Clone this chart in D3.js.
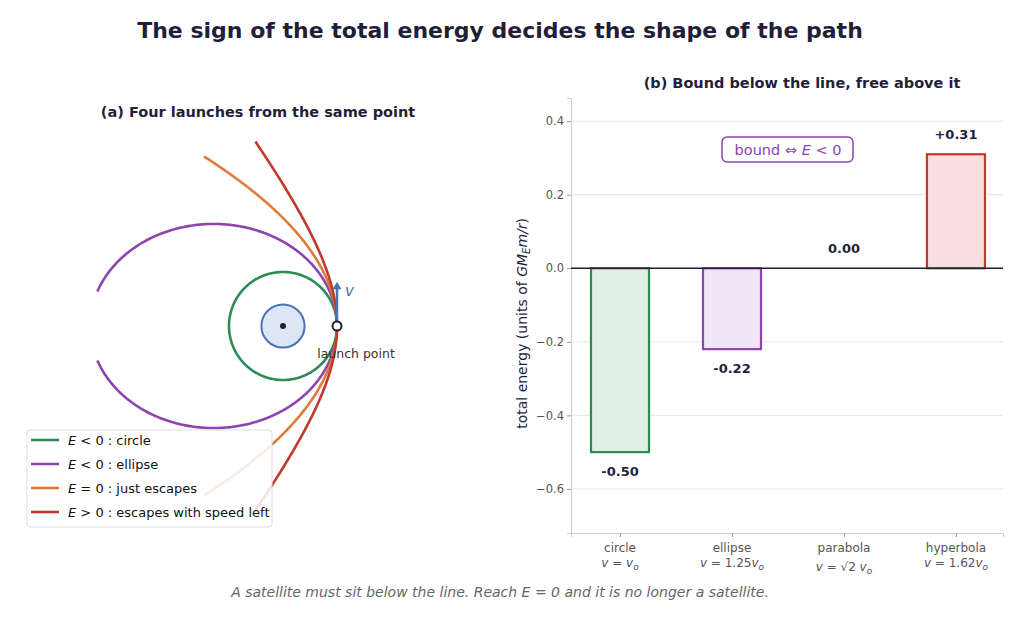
<!DOCTYPE html>
<html><head><meta charset="utf-8">
<script src="https://cdn.jsdelivr.net/npm/d3@7"></script>
<style>body{margin:0;background:#fff;font-family:"DejaVu Sans",sans-serif}</style>
</head><body><div id="chart"></div>
<script>
// launch speeds in units of circular speed v_o
const speeds = [1, 1.25, Math.SQRT2, 1.62];
const orbitNames = ["E < 0 : circle", "E < 0 : ellipse", "E = 0 : just escapes", "E > 0 : escapes with speed left"];
const colors = ["#2e8b57", "#8e44ad", "#e07b39", "#c0392b"];
const fills = ["#dff0e3", "#f1e5f8", "#fbe9e0", "#fbdfe0"];
const categories = ["circle", "ellipse", "parabola", "hyperbola"];
const energies = [-0.50, -0.22, 0.00, 0.31];
const energyLabels = ["-0.50", "-0.22", "0.00", "+0.31"];
const yTicks = [0.4, 0.2, 0.0, -0.2, -0.4, -0.6];
const RMAX = 3.5;
const dark = "#1f1f3a";

const svg = d3.select("#chart").append("svg").attr("width", 1024).attr("height", 620);

svg.append("text").attr("x", 500).attr("y", 38).attr("text-anchor", "middle")
    .style("font-size", "22px").style("font-weight", "bold").attr("fill", dark)
    .text("The sign of the total energy decides the shape of the path");

svg.append("text").attr("x", 500).attr("y", 597).attr("text-anchor", "middle")
    .style("font-size", "14px").style("font-style", "italic").attr("fill", "#666")
    .html("A satellite must sit below the line. Reach <tspan>E</tspan> = 0 and it is no longer a satellite.");

// ---------- left panel ----------
svg.append("text").attr("x", 258).attr("y", 117).attr("text-anchor", "middle")
    .style("font-size", "14.5px").style("font-weight", "bold").attr("fill", dark)
    .text("(a) Four launches from the same point");

const sx = d3.scaleLinear().domain([0, 1]).range([283, 337]);
const sy = d3.scaleLinear().domain([0, 1]).range([326, 272]);
const left = svg.append("g");

speeds.forEach((k, i) => {
    const e = k * k - 1, p = k * k;
    const pts = [];
    for (let t = -180; t <= 180; t += 0.5) {
        const th = t * Math.PI / 180;
        const den = 1 + e * Math.cos(th);
        if (den <= 0) { pts.push(null); continue; }
        const r = p / den;
        pts.push(r > RMAX ? null : [r * Math.cos(th), r * Math.sin(th)]);
    }
    const line = d3.line().defined(d => d).x(d => sx(d[0])).y(d => sy(d[1]));
    left.append("path").attr("d", line(pts)).attr("fill", "none")
        .attr("stroke", colors[i]).attr("stroke-width", 2.6);
});

left.append("circle").attr("cx", sx(0)).attr("cy", sy(0)).attr("r", sx(0.4) - sx(0))
    .attr("fill", "#dce6f5").attr("stroke", "#4a72b5").attr("stroke-width", 2);
left.append("circle").attr("cx", sx(0)).attr("cy", sy(0)).attr("r", 3).attr("fill", dark);

left.append("line").attr("x1", sx(1)).attr("y1", sy(0)).attr("x2", sx(1)).attr("y2", sy(0.7))
    .attr("stroke", "#4a72b5").attr("stroke-width", 2.5);
left.append("path").attr("fill", "#4a72b5")
    .attr("d", `M${sx(1)},${sy(0.82)} L${sx(1) - 4.5},${sy(0.68)} L${sx(1) + 4.5},${sy(0.68)}Z`);
left.append("text").attr("x", sx(1) + 8).attr("y", sy(0.55)).style("font-size", "15px")
    .style("font-style", "italic").attr("fill", "#4a72b5").text("v");
left.append("circle").attr("cx", sx(1)).attr("cy", sy(0)).attr("r", 4.5)
    .attr("fill", "#fff").attr("stroke", dark).attr("stroke-width", 2);
left.append("text").attr("x", sx(1) + 19).attr("y", sy(0) + 32).attr("text-anchor", "middle")
    .style("font-size", "12.5px").attr("fill", "#333").text("launch point");

const leg = svg.append("g").attr("transform", "translate(27,430)");
leg.append("rect").attr("width", 245).attr("height", 97).attr("rx", 3)
    .attr("fill", "#fff").attr("fill-opacity", 0.85).attr("stroke", "#ddd");
orbitNames.forEach((n, i) => {
    const y = 10 + i * 24;
    leg.append("line").attr("x1", 4).attr("x2", 32).attr("y1", y).attr("y2", y)
        .attr("stroke", colors[i]).attr("stroke-width", 2.6);
    const parts = n.split(" : ");
    const t = leg.append("text").attr("x", 41).attr("y", y + 5).style("font-size", "13px").attr("fill", "#111");
    t.append("tspan").style("font-style", "italic").text(parts[0][0]);
    t.append("tspan").text(parts[0].slice(1) + " : " + parts[1]);
});

// ---------- right panel ----------
svg.append("text").attr("x", 802).attr("y", 88).attr("text-anchor", "middle")
    .style("font-size", "14.5px").style("font-weight", "bold").attr("fill", dark)
    .text("(b) Bound below the line, free above it");

const x = d3.scaleLinear().domain([-0.4375, 3.42]).range([571, 1003]);
const y = d3.scaleLinear().domain([-0.72, 0.463]).range([533, 98]);
const bw = 58;
const right = svg.append("g");

yTicks.forEach(v => {
    right.append("line").attr("x1", 571).attr("x2", 1003).attr("y1", y(v)).attr("y2", y(v))
        .attr("stroke", "#e6e6e6");
});
right.append("g").attr("transform", "translate(571,0)")
    .call(d3.axisLeft(y).tickValues(yTicks).tickSize(4).tickFormat(d => d3.format(".1f")(d).replace("-", "\u2212")))
    .call(g => g.select(".domain").attr("stroke", "#ccc"))
    .call(g => g.selectAll(".tick line").attr("stroke", "#999"))
    .call(g => g.selectAll("text").style("font-size", "11.5px").attr("fill", "#555").attr("font-family", "DejaVu Sans"));
right.append("g").attr("transform", "translate(0,533)")
    .call(d3.axisBottom(x).tickValues([0, 1, 2, 3]).tickSize(4).tickFormat(""))
    .call(g => g.select(".domain").attr("stroke", "#ccc"))
    .call(g => g.selectAll(".tick line").attr("stroke", "#999"));

const subs = [["v", " = ", "v", "o"], ["v", " = 1.25", "v", "o"], ["v", " = \u221a2 ", "v", "o"], ["v", " = 1.62", "v", "o"]];
categories.forEach((c, i) => {
    right.append("text").attr("x", x(i)).attr("y", 552).attr("text-anchor", "middle")
        .style("font-size", "12px").attr("fill", "#555").text(c);
    const t = right.append("text").attr("x", x(i)).attr("y", i === 2 ? 571 : 567).attr("text-anchor", "middle")
        .style("font-size", "12px").attr("fill", "#555");
    t.append("tspan").style("font-style", "italic").text(subs[i][0]);
    t.append("tspan").text(subs[i][1]);
    t.append("tspan").style("font-style", "italic").text(subs[i][2]);
    t.append("tspan").attr("dy", 3).style("font-size", "9px").style("font-style", "italic").text(subs[i][3]);
});

energies.forEach((v, i) => {
    right.append("rect").attr("x", x(i) - bw / 2).attr("width", bw)
        .attr("y", y(Math.max(0, v))).attr("height", Math.abs(y(v) - y(0)))
        .attr("fill", fills[i]).attr("stroke", colors[i]).attr("stroke-width", 2.2);
    right.append("text").attr("x", x(i)).attr("y", v < 0 ? y(v) + 24 : y(v) - 15)
        .attr("text-anchor", "middle").style("font-size", "13px").style("font-weight", "bold")
        .attr("fill", dark).text(energyLabels[i]);
});
right.append("line").attr("x1", 571).attr("x2", 1003).attr("y1", y(0)).attr("y2", y(0))
    .attr("stroke", dark).attr("stroke-width", 1.6);

right.append("rect").attr("x", 722).attr("y", 137).attr("width", 131).attr("height", 25).attr("rx", 5)
    .attr("fill", "#fff").attr("stroke", "#8e44ad").attr("stroke-width", 1.5);
const bt = right.append("text").attr("x", 788).attr("y", 155).attr("text-anchor", "middle")
    .style("font-size", "14.5px").attr("fill", "#8e44ad");
bt.append("tspan").text("bound  \u21d4  ");
bt.append("tspan").style("font-style", "italic").text("E");
bt.append("tspan").text(" < 0");

const yl = right.append("text").attr("transform", `translate(527,${y(-0.15)}) rotate(-90)`)
    .attr("text-anchor", "middle").style("font-size", "14px").attr("fill", dark);
yl.append("tspan").text("total energy   (units of ");
yl.append("tspan").style("font-style", "italic").text("GM");
yl.append("tspan").attr("dy", 3).style("font-size", "10px").style("font-style", "italic").text("E");
yl.append("tspan").attr("dy", -3).style("font-style", "italic").text("m/r");
yl.append("tspan").text(")");
</script></body></html>
